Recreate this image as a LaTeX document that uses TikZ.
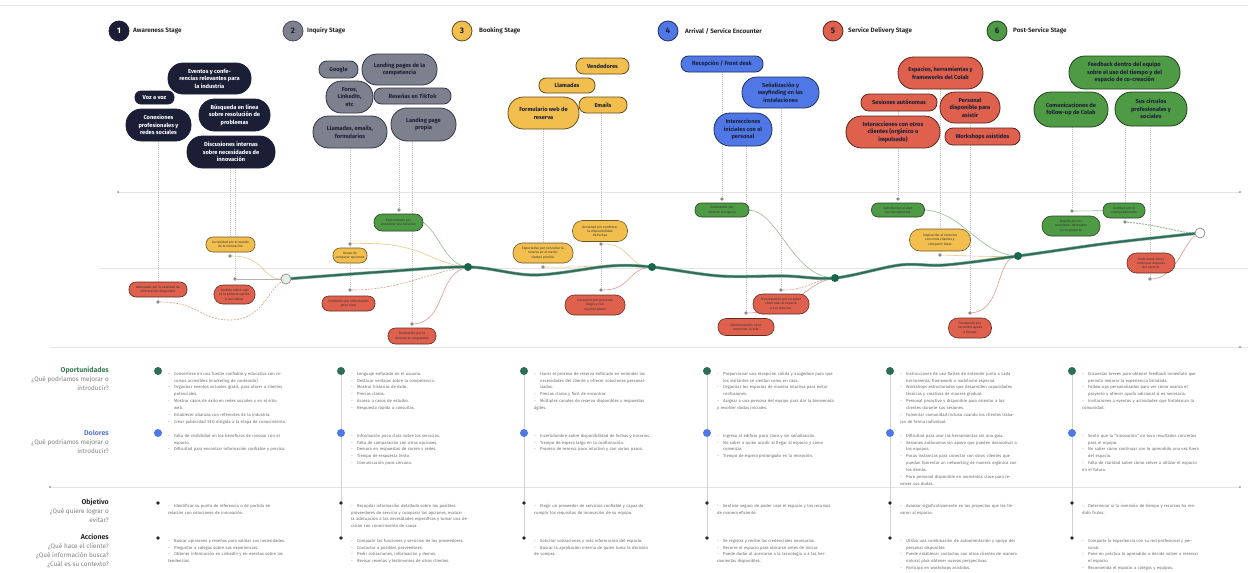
\documentclass[tikz,border=0pt]{standalone}
\usepackage{fontspec}
\setmainfont{Fira Sans}
\usetikzlibrary{calc}

\definecolor{cNavy}{HTML}{1B1F36}
\definecolor{cGray}{HTML}{7C818D}
\definecolor{cYellow}{HTML}{F2BF4F}
\definecolor{cBlue}{HTML}{4F78E6}
\definecolor{cRed}{HTML}{DF604D}
\definecolor{cGreen}{HTML}{4F9A45}
\definecolor{cCurve}{HTML}{2E6E57}
\definecolor{cNode}{HTML}{17654A}
\definecolor{cRule}{HTML}{E4E4E4}
\definecolor{cVline}{HTML}{C4C4C4}
\definecolor{cTxt}{HTML}{6A6A6A}
\definecolor{cHead}{HTML}{2B2B2B}
\definecolor{cOpp}{HTML}{3B7A5C}
\definecolor{cPain}{HTML}{5A7BD0}
\definecolor{cLineY}{HTML}{E9CB8A}
\definecolor{cLineR}{HTML}{DE9A8C}
\definecolor{cLineG}{HTML}{9DB79A}

\pgfdeclarelayer{back}
\pgfdeclarelayer{links}
\pgfsetlayers{back,links,main}

\tikzset{
  bubble/.style={inner sep=1pt, align=center, line width=0.8pt, font=\bfseries\fontsize{5.7}{7.6}\selectfont},
  navyb/.style={bubble, fill=cNavy, draw=cNavy, text=white},
  grayb/.style={bubble, fill=cGray, draw=cNavy!90, text=cNavy},
  yellowb/.style={bubble, fill=cYellow, draw=cYellow!40!black, text=cNavy},
  blueb/.style={bubble, fill=cBlue, draw=cBlue!40!black, text=cNavy},
  redb/.style={bubble, fill=cRed, draw=cRed!40!black, text=cNavy},
  greenb/.style={bubble, fill=cGreen, draw=cGreen!40!black, text=cNavy},
  card/.style={inner sep=0.5pt, align=center, line width=0.6pt, font=\fontsize{3.3}{4.2}\selectfont, text=black!80},
  redc/.style={card, fill=cRed, draw=cRed!45!black},
  yellowc/.style={card, fill=cYellow, draw=cYellow!45!black},
  greenc/.style={card, fill=cGreen, draw=cGreen!45!black},
  gdot/.style={circle, fill=black!45, inner sep=0pt, minimum size=3.6pt},
  knot/.style={circle, fill=cNode, inner sep=0pt, minimum size=8pt},
  endknot/.style={circle, draw=black!45, line width=0.7pt, fill=white, inner sep=0pt, minimum size=10pt},
  startknot/.style={endknot, fill=cGreen!15},
  vline/.style={cVline, line width=0.5pt, dash pattern=on 1pt off 1pt},
  ylink/.style={cLineY, line width=0.6pt},
  rlink/.style={cLineR, line width=0.6pt, dash pattern=on 2pt off 1.2pt},
  rsolid/.style={cLineR, line width=0.6pt},
  glink/.style={cLineG, line width=0.6pt},
  neutral/.style={black!30, line width=0.6pt},
  rule/.style={cRule, line width=0.7pt},
  colline/.style={black!18, line width=0.5pt},
  stagecirc/.style={circle, minimum size=20pt, inner sep=0pt, line width=0.8pt, font=\bfseries\fontsize{8}{9}\selectfont},
  stagelab/.style={anchor=west, inner sep=0pt, font=\bfseries\fontsize{6.3}{8}\selectfont, text=cHead},
  rowlab/.style={anchor=east, inner sep=0pt, font=\bfseries\fontsize{7}{8}\selectfont},
  rowq/.style={anchor=north east, inner sep=0pt, align=right, font=\fontsize{6.4}{9.6}\selectfont, text=black!50},
  cell/.style={anchor=north west, inner sep=0pt, text width=118pt, align=left, font=\fontsize{4.2}{6.9}\selectfont, text=cTxt},
  oppdot/.style={circle, fill=cCurve, inner sep=0pt, minimum size=8pt},
  paindot/.style={circle, fill=cBlue, inner sep=0pt, minimum size=8pt},
  smalldot/.style={circle, fill=black!85, inner sep=0pt, minimum size=3.6pt},
  tick/.style={circle, fill=black!55, inner sep=0pt, minimum size=1.8pt},
}

% pill-shaped node: name, style, x, y, width, height, text
\newcommand\pillnode[7]{%
  \pgfmathsetmacro\pillr{#6/2-0.5}%
  \node[#2, minimum width=#5pt, minimum height=#6pt, rounded corners=\pillr pt] (#1) at (#3,#4) {#7};}
% bullet item with hanging indent
\newcommand\bi{\par\noindent\hangindent=6pt\hangafter=1\makebox[6pt][l]{-}}

\begin{document}
\begin{tikzpicture}[x=1pt,y=-1pt]
\useasboundingbox (0,0) rectangle (1248,573);
\begin{pgfonlayer}{back}
  \fill[white] (0,0) rectangle (1248,573);
\end{pgfonlayer}

% ---------- stage headers ----------
\node[stagecirc, fill=cNavy, draw=cNavy, text=white] (s1) at (119,31) {1};
\node[stagelab] (s1l) at (133,31) {Awareness Stage};
\node[stagecirc, fill=cGray, draw=cNavy!80, text=cNavy] (s2) at (293,31) {2};
\node[stagelab] (s2l) at (307,31) {Inquiry Stage};
\node[stagecirc, fill=cYellow, draw=cYellow!40!black, text=cNavy] (s3) at (462,31) {3};
\node[stagelab] (s3l) at (479,31) {Booking Stage};
\node[stagecirc, fill=cBlue, draw=cBlue!40!black, text=cNavy] (s4) at (668,31) {4};
\node[stagelab] (s4l) at (685,31) {Arrival / Service Encounter};
\node[stagecirc, fill=cRed, draw=cRed!40!black, text=cNavy] (s5) at (833,31) {5};
\node[stagelab] (s5l) at (848,31) {Service Delivery Stage};
\node[stagecirc, fill=cGreen, draw=cGreen!40!black, text=cNavy] (s6) at (997,31) {6};
\node[stagelab] (s6l) at (1013,31) {Post-Service Stage};

% ---------- touchpoint bubbles ----------
\pillnode{b1a}{navyb}{209.5}{78.5}{83}{31}{Eventos y confe-\\rencias relevantes para\\la industria}
\pillnode{b1b}{navyb}{154.5}{97.5}{39}{13}{Voz a voz}
\pillnode{b1c}{navyb}{234.5}{115}{71}{32}{Búsqueda en línea\\sobre resolución de\\problemas}
\pillnode{b1d}{navyb}{158.5}{125}{65}{32}{Conexiones\\profesionales y\\redes sociales}
\pillnode{b1e}{navyb}{231}{152}{88}{32}{Discusiones internas\\sobre necesidades de\\innovación}

\pillnode{b2a}{grayb}{338.5}{69.5}{39}{17}{Google}
\pillnode{b2b}{grayb}{399.5}{69.5}{75}{31}{Landing pages de la\\competencia}
\pillnode{b2c}{grayb}{349.5}{97}{47}{32}{Foros,\\LinkedIn,\\etc}
\pillnode{b2d}{grayb}{412.5}{96}{77}{16}{Reseñas en TikTok}
\pillnode{b2e}{grayb}{350}{132}{74}{32}{Llamadas, emails,\\formularios}
\pillnode{b2f}{grayb}{423.5}{124.5}{65}{33}{Landing page\\propia}

\pillnode{b3a}{yellowb}{602.5}{66}{53}{16}{Vendedores}
\pillnode{b3b}{yellowb}{567}{85.5}{56}{15}{Llamadas}
\pillnode{b3c}{yellowb}{543.5}{113}{71}{32}{Formulario web de\\reserva}
\pillnode{b3d}{yellowb}{603}{105}{48}{16}{Emails}

\pillnode{b4a}{blueb}{722}{64}{82}{16}{Recepción / Front desk}
\pillnode{b4b}{blueb}{780.5}{92.5}{77}{31}{Señalización y\\wayfinding en las\\instalaciones}
\pillnode{b4c}{blueb}{743}{129.5}{58}{33}{Interacciones\\iniciales con el\\personal}

\pillnode{b5a}{redb}{940.5}{73}{85}{32}{Espacios, herramientas y\\frameworks del Colab}
\pillnode{b5b}{redb}{899}{102.5}{76}{17}{Sesiones autónomas}
\pillnode{b5c}{redb}{970}{107.5}{60}{31}{Personal\\disponible para\\asistir}
\pillnode{b5d}{redb}{893}{132}{94}{32}{Interacciones con otros\\clientes (orgánico o\\impulsado)}
\pillnode{b5e}{redb}{982.5}{136.5}{75}{17}{Workshops asistidos}

\pillnode{b6a}{greenb}{1124.5}{72.5}{111}{33}{Feedback dentro del equipo\\sobre el uso del tiempo y del\\espacio de co-creación}
\pillnode{b6b}{greenb}{1071}{109.5}{74}{35}{Comunicaciones de\\follow-up de Colab}
\pillnode{b6c}{greenb}{1151}{109}{72}{34}{Sus círculos\\profesionales y\\sociales}

% ---------- emotion cards ----------
\pillnode{e1a}{redc}{158}{289.5}{58}{15}{Abrumado por la cantidad de\\información disponible}
\pillnode{e1b}{yellowc}{230.5}{244.5}{49}{15}{Curiosidad por el mundo\\de la innovación}
\pillnode{e1c}{redc}{234.5}{294.5}{41}{19}{Perdido sobre cuál\\es la primera opción\\a considerar}

\pillnode{e2a}{greenc}{398.5}{222.5}{49}{17}{Esperanzado por\\encontrar una solución}
\pillnode{e2b}{yellowc}{350}{255.5}{34}{15}{Deseo de\\comparar opciones}
\pillnode{e2c}{redc}{348.5}{303.5}{53}{15}{Confusión por información\\poco clara}
\pillnode{e2d}{redc}{412}{336}{48}{16}{Frustración por la\\demora en respuestas}

\pillnode{e3a}{yellowc}{543}{253}{60}{20}{Expectativa por concretar la\\reserva en el menor\\tiempo posible}
\pillnode{e3b}{yellowc}{600}{231}{55}{21}{Ansiedad por confirmar\\la disponibilidad\\de fechas}
\pillnode{e3c}{redc}{595}{305}{60}{20}{Cansancio por procesos\\largos y con\\muchos pasos}

\pillnode{e4a}{greenc}{722}{210}{54}{14}{Entusiasmo por\\conocer el espacio}
\pillnode{e4b}{redc}{781}{304}{56}{20}{Preocupación por no saber\\cómo usar el espacio\\y sus recursos}
\pillnode{e4c}{redc}{746}{327}{56}{17}{Desorientación al no\\encontrar la sala}

\pillnode{e5a}{greenc}{898}{210}{53}{14}{Satisfacción al usar\\las herramientas}
\pillnode{e5b}{yellowc}{940}{240}{61}{22}{Inspiración al conectar\\con otros clientes y\\compartir ideas}
\pillnode{e5c}{redc}{970}{328}{43}{20}{Frustración por\\no recibir ayuda\\a tiempo}

\pillnode{e6a}{greenc}{1071}{226}{58}{20}{Orgullo por los\\resultados obtenidos\\en su proyecto}
\pillnode{e6b}{greenc}{1124}{210.5}{42}{15}{Gratitud por el\\acompañamiento}
\pillnode{e6c}{redc}{1151}{263}{48}{20}{Duda sobre cómo\\continuar después\\del servicio}

% ---------- connector dots ----------
\node[gdot] (d1a) at (158,302) {};
\node[gdot] (d1b) at (230,256) {};
\node[gdot] (d1c) at (235,279) {};
\node[gdot] (d2a) at (399,210) {};
\node[gdot] (d2b) at (350,244) {};
\node[gdot] (d2c) at (350,290) {};
\node[gdot] (d2d) at (412,324) {};
\node[gdot] (d3a) at (543,267) {};
\node[gdot] (d3b) at (601,244) {};
\node[gdot] (d3c) at (601,290) {};
\node[gdot] (d4a) at (722,199) {};
\node[gdot] (d4b) at (781,290) {};
\node[gdot] (d4c) at (746,313) {};
\node[gdot] (d5a) at (898,199) {};
\node[gdot] (d5b) at (940,255) {};
\node[gdot] (d5c) at (970,313) {};
\node[gdot] (d6a) at (1072,211) {};
\node[gdot] (d6b) at (1125,222) {};
\node[gdot] (d6c) at (1150,279) {};

% ---------- journey curve knots ----------
\coordinate (m0) at (286,279);
\coordinate (m1) at (468,267);
\coordinate (m2) at (652,267);
\coordinate (m3) at (835,278);
\coordinate (m4) at (1018,256);
\coordinate (m5) at (1200,233);
\coordinate (q1) at (380,272);
\coordinate (q2) at (535,275);
\coordinate (q3) at (610,266);
\coordinate (q4) at (720,276);
\coordinate (q5) at (785,276);
\coordinate (q6) at (900,265);
\coordinate (q7) at (945,265);
\coordinate (q8) at (1110,243);
\node[startknot] (n0) at (m0) {};
\node[knot] (n1) at (m1) {};
\node[knot] (n2) at (m2) {};
\node[knot] (n3) at (m3) {};
\node[knot] (n4) at (m4) {};
\node[endknot] (n5) at (m5) {};

% ---------- table: row labels ----------
\node[rowlab, text=cOpp] (lop) at (109,370) {Oportunidades};
\node[rowq] (lopq) at (109,376) {¿Qué podríamos mejorar o\\introducir?};
\node[rowlab, text=cPain] (ldo) at (109,433) {Dolores};
\node[rowq] (ldoq) at (109,439) {¿Qué podríamos mejorar o\\introducir?};
\node[rowlab, text=cHead] (lob) at (109,502) {Objetivo};
\node[rowq] (lobq) at (109,508) {¿Qué quiere lograr o\\evitar?};
\node[rowlab, text=cHead] (lac) at (109,537) {Acciones};
\node[rowq, font=\fontsize{6.4}{9}\selectfont] (lacq) at (109,543) {¿Qué hace el cliente?\\¿Qué información busca?\\¿Cuál es su contexto?};

% ---------- table: markers ----------
\foreach \i/\cx in {1/158,2/341,3/524,4/707,5/890,6/1072}{
  \node[oppdot] (o\i) at (\cx,371) {};
  \node[paindot] (p\i) at (\cx,433) {};
  \node[smalldot] (g\i) at (\cx,503) {};
  \node[smalldot] (a\i) at (\cx,538) {};
}

% ---------- table: cells ----------
\node[cell] (c1o) at (168,368) {\bi Convertirse en una fuente confiable y educativa con recursos accesibles (marketing de contenido).\bi Organizar eventos virtuales gratis, para atraer a clientes potenciales.\bi Mostrar casos de éxito en redes sociales y en el sitio web.\bi Establecer alianzas con referentes de la industria.\bi Crear publicidad SEO dirigida a la etapa de conocimiento.};
\node[cell] (c1d) at (168,430) {\bi Falta de visibilidad en los beneficios de innovar con el espacio.\bi Dificultad para encontrar información confiable y precisa.};
\node[cell] (c1g) at (168,500) {\bi Identificar su punto de referencia o de partida en relación con soluciones de innovación.};
\node[cell] (c1a) at (168,535) {\bi Buscar opiniones y reseñas para validar sus necesidades.\bi Preguntar a colegas sobre sus experiencias.\bi Obtener información en LinkedIn y en eventos sobre las tendencias.};

\node[cell] (c2o) at (351,368) {\bi Lenguaje enfocado en el usuario.\bi Destacar ventajas sobre la competencia.\bi Mostrar historias de éxito.\bi Precios claros.\bi Acceso a casos de estudio.\bi Respuesta rápida a consultas.};
\node[cell] (c2d) at (351,430) {\bi Información poco clara sobre los servicios.\bi Falta de comparación con otras opciones.\bi Demora en respuestas de correo y redes.\bi Tiempo de respuesta lento.\bi Comunicación poco cercana.};
\node[cell] (c2g) at (351,500) {\bi Recopilar información detallada sobre los posibles proveedores de servicio y comparar las opciones, evaluar la adecuación a las necesidades específicas y tomar una decisión con conocimiento de causa.};
\node[cell] (c2a) at (351,535) {\bi Comparar las funciones y servicios de los proveedores.\bi Contactar a posibles proveedores.\bi Pedir cotizaciones, información y demos.\bi Revisar reseñas y testimonios de otros clientes.};

\node[cell] (c3o) at (534,368) {\bi Hacer el proceso de reserva enfocado en entender las necesidades del cliente y ofrecer soluciones personalizadas.\bi Precios claros y fácil de encontrar.\bi Múltiples canales de reserva disponibles y respuestas ágiles.};
\node[cell] (c3d) at (534,430) {\bi Incertidumbre sobre disponibilidad de fechas y horarios.\bi Tiempo de espera largo en la confirmación.\bi Proceso de reserva poco intuitivo y con varios pasos.};
\node[cell] (c3g) at (534,500) {\bi Elegir un proveedor de servicios confiable y capaz de cumplir los requisitos de innovación de su equipo.};
\node[cell] (c3a) at (534,535) {\bi Solicitar cotizaciones y más información del espacio.\bi Buscar la aprobación interna de quien toma la decisión de compra.};

\node[cell] (c4o) at (717,368) {\bi Proporcionar una recepción cálida y acogedora para que los visitantes se sientan como en casa.\bi Organizar los espacios de manera intuitiva para evitar confusiones.\bi Asignar a una persona del equipo para dar la bienvenida y resolver dudas iniciales.};
\node[cell] (c4d) at (717,430) {\bi Ingreso al edificio poco claro y sin señalización.\bi No saber a quién acudir al llegar al espacio y cómo comenzar.\bi Tiempo de espera prolongado en la recepción.};
\node[cell] (c4g) at (717,500) {\bi Sentirse seguro de poder usar el espacio y los recursos de manera eficiente.};
\node[cell] (c4a) at (717,535) {\bi Se registra y recibe las credenciales necesarias.\bi Recorre el espacio para ubicarse antes de iniciar.\bi Puede dudar al acercarse a la tecnología o a las herramientas disponibles.};

\node[cell] (c5o) at (900,368) {\bi Instrucciones de uso fáciles de entender junto a cada herramienta, framework o mobiliario especial.\bi Workshops estructurados que desarrollen capacidades técnicas y creativas de manera gradual.\bi Personal proactivo y disponible para orientar a los clientes durante sus sesiones.\bi Fomentar comunidad incluso cuando los clientes trabajan de forma individual.};
\node[cell] (c5d) at (900,430) {\bi Dificultad para usar las herramientas sin una guía.\bi Sesiones autónomas sin apoyo que pueden desmotivar a los equipos.\bi Pocas instancias para conectar con otros clientes que puedan fomentar un networking de manera orgánica con los demás.\bi Poco personal disponible en momentos clave para resolver sus dudas.};
\node[cell] (c5g) at (900,500) {\bi Avanzar significativamente en los proyectos que les llevaron al espacio.};
\node[cell] (c5a) at (900,535) {\bi Utiliza una combinación de autoorientación y apoyo del personal disponible.\bi Puede establecer contactos con otros clientes de manera natural para obtener nuevas perspectivas.\bi Participa en workshops asistidos.};

\node[cell] (c6o) at (1082,368) {\bi Encuestas breves para obtener feedback inmediato que permita mejorar la experiencia brindada.\bi Follow-ups personalizados para ver cómo avanza el proyecto y ofrecer ayuda adicional si es necesaria.\bi Invitaciones a eventos y actividades que fortalezcan la comunidad.};
\node[cell] (c6d) at (1082,430) {\bi Sentir que la “innovación” no tuvo resultados concretos para el equipo.\bi No saber cómo continuar con lo aprendido una vez fuera del espacio.\bi Falta de claridad sobre cómo volver a utilizar el espacio en el futuro.};
\node[cell] (c6g) at (1082,500) {\bi Determinar si la inversión de tiempo y recursos ha rendido frutos.};
\node[cell] (c6a) at (1082,535) {\bi Comparte la experiencia con su red profesional y personal.\bi Pone en práctica lo aprendido o decide volver a reservar el espacio.\bi Recomienda el espacio a colegas y equipos.};

% ---------- guide rules and column lines ----------
\begin{pgfonlayer}{back}
  \draw[rule] (0,5) -- (1248,5);
  \draw[rule] (118,192) -- (1240,192);
  \node[tick] (t1) at (118,192) {};
  \node[tick] (t2) at (1240,192) {};
  \draw[rule] (100,268) -- (1248,268);
  \draw[rule] (50,347) -- (1248,347);
  \node[tick] (t3) at (1240,347) {};
  \draw[rule] (50,487) -- (1240,487);
  \node[tick] (t4) at (50,487) {};
  \node[tick] (t5) at (1240,487) {};
  \foreach \i in {2,3,4,5,6}{\draw[colline] (o\i) -- (a\i);}

  % touchpoint drop lines
  \draw[vline] (b1d.south -| d1a) -- (d1a);
  \draw[vline] (b1e.south -| d1b) -- (d1b);
  \draw[vline] (b1e.south -| d1c) -- (d1c);
  \draw[vline] (b2e.south -| d2b) -- (d2c);
  \draw[vline] (b2f.south -| d2a) -- (d2a);
  \draw[vline] (b2f.south -| d2d) -- (d2d);
  \draw[vline] (b3c.south -| d3a) -- (d3a);
  \draw[vline] (b3d.south -| d3b) -- (d3c);
  \draw[vline] (b4a.south -| d4a) -- (d4a);
  \draw[vline] (b4c.south -| d4c) -- (d4c);
  \draw[vline] (b4b.south -| d4b) -- (d4b);
  \draw[vline] (b5b.south -| d5a) -- (d5a);
  \draw[vline] (b5a.south -| d5b) -- (d5b);
  \draw[vline] (b5c.south -| d5c) -- (d5c);
  \draw[vline] (b6b.south -| d6a) -- (d6a);
  \draw[vline] (b6c.south -| d6b) -- (d6b);
  \draw[vline] (b6c.south -| d6c) -- (d6c);
\end{pgfonlayer}

% ---------- emotion links and journey curve ----------
\begin{pgfonlayer}{links}
  % stage 1
  \coordinate (k1) at (232,320);
  \draw[rlink] (d1a) .. controls (200,302) and (200,321) .. (k1) .. controls (262,319) and (268,290) .. (n0);
  \draw[ylink] (d1b) .. controls (265,256) and (262,279) .. (n0);
  \draw[neutral] (d1c) -- (n0);
  % stage 2
  \draw[glink] (e2a.east) .. controls (438,232) and (445,262) .. (n1);
  \draw[ylink] (d2b) .. controls (420,240) and (430,263) .. (n1);
  \draw[rlink] (d2c) .. controls (400,290) and (430,272) .. (n1);
  \draw[rsolid] (d2d) .. controls (445,322) and (438,276) .. (n1);
  % stage 3
  \draw[ylink] (d3a) .. controls (590,268) and (615,263) .. (n2);
  \draw[ylink] (d3b) .. controls (630,244) and (628,265) .. (n2);
  \draw[rsolid] (d3c) .. controls (630,290) and (628,270) .. (n2);
  % stage 4
  \draw[glink] (e4a.east) .. controls (778,212) and (792,274) .. (n3);
  \draw[rlink] (d4b) .. controls (806,290) and (815,280) .. (n3);
  \draw[rsolid] (d4c) .. controls (795,312) and (805,284) .. (n3);
  % stage 5
  \draw[glink] (e5a.east) .. controls (962,212) and (978,252) .. (n4);
  \draw[ylink] (d5b) .. controls (975,256) and (990,257) .. (n4);
  \draw[rsolid] (d5c) .. controls (1002,310) and (996,262) .. (n4);
  % stage 6
  \draw[glink] (d6a) -- (e6b);
  \draw[glink, dash pattern=on 2pt off 1pt, line width=1pt] (d6b) .. controls (1160,225) and (1180,233) .. (n5);
  \draw[rsolid] (d6c) .. controls (1176,278) and (1184,242) .. (n5);
  % journey curve
  \draw[cCurve!55, line width=3.2pt, line cap=round] plot[smooth, tension=0.55] coordinates {(m0) (q1) (m1) (q2) (q3) (m2) (q4) (q5) (m3) (q6) (q7) (m4) (q8) (m5)};
  \draw[cCurve, line width=2pt, line cap=round] plot[smooth, tension=0.55] coordinates {(m0) (q1) (m1) (q2) (q3) (m2) (q4) (q5) (m3) (q6) (q7) (m4) (q8) (m5)};
\end{pgfonlayer}
\end{tikzpicture}
\end{document}
